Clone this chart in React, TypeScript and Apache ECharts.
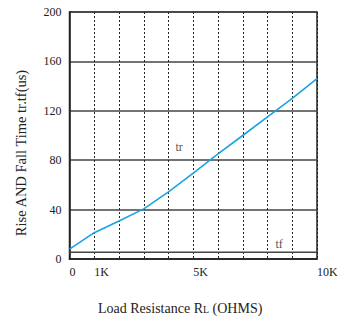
import React, { useEffect, useRef } from "react";
import * as echarts from "echarts";

const resistance = [0, 1000, 2000, 3000, 4000, 5000, 6000, 7000, 8000, 9000, 10000];
const riseTime = [8, 21.3, 30.8, 40.6, 54.3, 69.5, 85.1, 100, 115.1, 130, 146];
const fallTime = [5.4, 5.4, 5.4, 5.4, 5.4, 5.4, 5.4, 5.4, 5.4, 5.4, 5.4];
const xTickLabels: Record<number, string> = { 0: "0", 1000: "1K", 5000: "5K", 10000: "10K" };
const curveLabels = ["tr", "tf"];
const curveLabelX = [4430, 8470];
const curveLabelY = [91, 11.8];

const SERIF = "'Liberation Serif', 'DejaVu Serif', serif";

export default function App() {
  const ref = useRef<HTMLDivElement>(null);
  useEffect(() => {
    if (!ref.current) return;
    const chart = echarts.init(ref.current, undefined, { renderer: "svg" });
    chart.setOption({
      animation: false,
      backgroundColor: "#ffffff",
      grid: {
        left: 69.5,
        right: 24,
        top: 12,
        bottom: 57,
        show: true,
        borderColor: "#222",
        borderWidth: 1.5,
        backgroundColor: "transparent",
      },
      title: {
        text: "Load Resistance R{s|L} (OHMS)",
        left: 93,
        top: 296,
        textStyle: {
          fontFamily: SERIF,
          fontSize: 14,
          fontWeight: "normal",
          color: "#222",
          rich: { s: { fontFamily: SERIF, fontSize: 10, color: "#222", padding: [2, 0, 0, 0] } },
        },
      },
      graphic: [
        {
          type: "text",
          x: 21,
          y: 153,
          rotation: Math.PI / 2,
          style: {
            text: "Rise AND Fall Time tr.tf(us)",
            font: `14.5px ${SERIF}`,
            fill: "#222",
            align: "center",
            verticalAlign: "middle",
          },
        },
      ],
      xAxis: {
        type: "value",
        min: 0,
        max: 10000,
        interval: 1000,
        axisLine: { show: true, lineStyle: { color: "#222", width: 1.5 } },
        axisTick: { show: false },
        axisLabel: {
          showMinLabel: true,
          showMaxLabel: true,
          margin: 7,
          align: "left",
          fontFamily: SERIF,
          fontSize: 12,
          color: "#222",
          formatter: (v: number) => xTickLabels[v] ?? "",
        },
        splitLine: { show: true, lineStyle: { type: [2, 2], color: "#222", width: 1 } },
      },
      yAxis: {
        type: "value",
        min: 0,
        max: 200,
        interval: 40,
        axisLine: { show: true, lineStyle: { color: "#222", width: 1.5 } },
        axisTick: { show: false },
        axisLabel: { margin: 8, fontFamily: SERIF, fontSize: 12, color: "#222" },
        splitLine: { show: true, lineStyle: { type: "solid", color: "#444", width: 1.5 } },
      },
      series: [
        {
          type: "line",
          name: "tr",
          data: resistance.map((x, i) => [x, riseTime[i]]),
          showSymbol: false,
          symbol: "none",
          lineStyle: { color: "#19a3e2", width: 1.6 },
          z: 5,
        },
        {
          type: "line",
          name: "tf",
          data: resistance.map((x, i) => [x, fallTime[i]]),
          showSymbol: false,
          symbol: "none",
          lineStyle: { color: "#444", width: 1.5 },
          z: 4,
        },
        {
          type: "scatter",
          data: curveLabels.map((t, i) => ({ name: t, value: [curveLabelX[i], curveLabelY[i]] })),
          symbolSize: 1,
          itemStyle: { color: "rgba(0,0,0,0)" },
          label: {
            show: true,
            position: "inside",
            formatter: (p: any) => p.name,
            fontFamily: SERIF,
            fontSize: 12,
            color: "#222",
          },
          z: 6,
        },
      ],
    });
    return () => chart.dispose();
  }, []);
  return (
    <div
      ref={ref}
      style={{ position: "absolute", left: 0, top: 0, width: 341, height: 316, background: "#fff" }}
    />
  );
}
